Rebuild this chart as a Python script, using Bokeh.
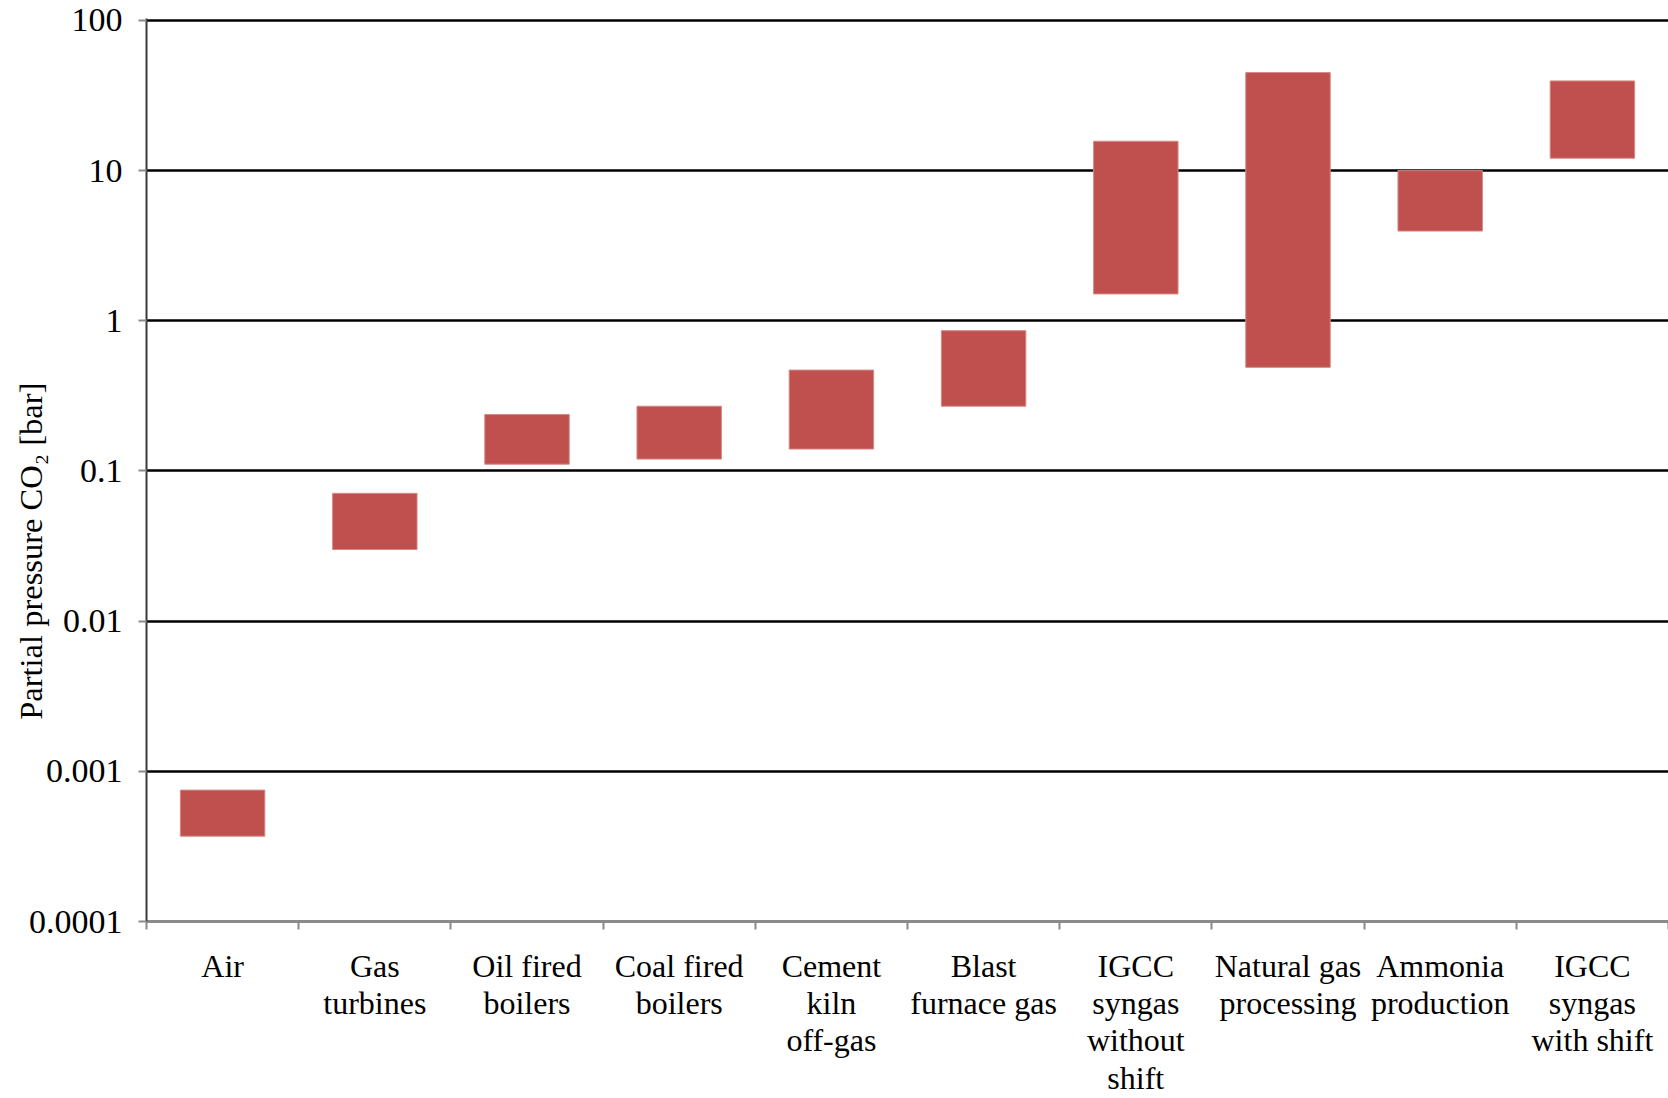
from bokeh.plotting import figure
from bokeh.models import FixedTicker, CustomJSTickFormatter, Range1d
from bokeh.embed import file_html
from bokeh.resources import INLINE

# CO2 partial pressure ranges by source (bar)
categories = ["Air", "Gas\nturbines", "Oil fired\nboilers", "Coal fired\nboilers",
              "Cement\nkiln\noff-gas", "Blast\nfurnace gas", "IGCC\nsyngas\nwithout\nshift",
              "Natural gas\nprocessing", "Ammonia\nproduction", "IGCC\nsyngas\nwith shift"]
low_bar = [0.00037, 0.030, 0.111, 0.12, 0.14, 0.27, 1.51, 0.49, 3.96, 12.1]
high_bar = [0.00075, 0.071, 0.238, 0.27, 0.47, 0.86, 15.7, 45.0, 10.0, 39.6]
y_ticks = [0.0001, 0.001, 0.01, 0.1, 1, 10, 100]
y_title = "Partial pressure CO\u2082 [bar]"

FONT = "Liberation Serif"
n = len(categories)
centers = [i + 0.5 for i in range(n)]

# a little headroom above the top decade so its grid line is fully visible
y_top = 100 * 10 ** (2 / 150.5)

p = figure(width=1668, height=1098, y_axis_type="log",
           x_range=Range1d(0, n), y_range=Range1d(1e-4, y_top),
           output_backend="svg", toolbar_location=None,
           min_border_left=146, min_border_right=0,
           min_border_top=18, min_border_bottom=175)
p.outline_line_color = None
p.background_fill_color = "white"
p.border_fill_color = "white"

# y axis: decades with plain decimal labels
p.yaxis.ticker = FixedTicker(ticks=y_ticks, minor_ticks=[])
p.yaxis.formatter = CustomJSTickFormatter(
    code="return tick >= 1 ? tick.toFixed(0) : String(parseFloat(tick.toPrecision(3)));")
p.yaxis.axis_line_color = "#3a3a3a"
p.yaxis.axis_line_width = 2
p.yaxis.major_tick_line_color = "#8a8a8a"
p.yaxis.major_tick_line_width = 2
p.yaxis.major_tick_out = 8
p.yaxis.major_tick_in = 0
p.yaxis.minor_tick_line_color = None
p.yaxis.major_label_text_font = FONT
p.yaxis.major_label_text_font_size = "34px"
p.yaxis.major_label_text_color = "black"
p.yaxis.major_label_standoff = 16

# axis title sits in the tick-label column and a little below the frame centre:
# trailing no-break spaces move the visible words down along the axis
p.yaxis.axis_label = y_title + "\u00a0" * 20
p.yaxis.axis_label_text_font = FONT
p.yaxis.axis_label_text_font_size = "32.5px"
p.yaxis.axis_label_text_font_style = "normal"
p.yaxis.axis_label_text_color = "black"
p.yaxis.axis_label_standoff = -23

# x axis: labels centred in each slot, ticks on slot boundaries
p.xaxis.ticker = FixedTicker(ticks=centers, minor_ticks=list(range(n + 1)))
p.xaxis.major_label_overrides = {c: lab for c, lab in zip(centers, categories)}
p.xaxis.axis_line_color = "#8a8a8a"
p.xaxis.axis_line_width = 3
p.xaxis.major_tick_line_color = None
p.xaxis.major_tick_out = 0
p.xaxis.major_tick_in = 0
p.xaxis.minor_tick_line_color = "#8a8a8a"
p.xaxis.minor_tick_line_width = 2
p.xaxis.minor_tick_out = 8
p.xaxis.minor_tick_in = 0
p.xaxis.major_label_text_font = FONT
p.xaxis.major_label_text_font_size = "32px"
p.xaxis.major_label_text_color = "black"
p.xaxis.major_label_text_line_height = 1.04
p.xaxis.major_label_standoff = 18

p.xgrid.grid_line_color = None
p.ygrid.ticker = FixedTicker(ticks=y_ticks, minor_ticks=[])
p.ygrid.grid_line_color = "black"
p.ygrid.grid_line_width = 2.5

p.vbar(x=centers, bottom=low_bar, top=high_bar, width=0.555,
       fill_color="#C0504D", line_color="#D58A88", line_width=1)

open("out.html", "w").write(file_html(p, INLINE))
